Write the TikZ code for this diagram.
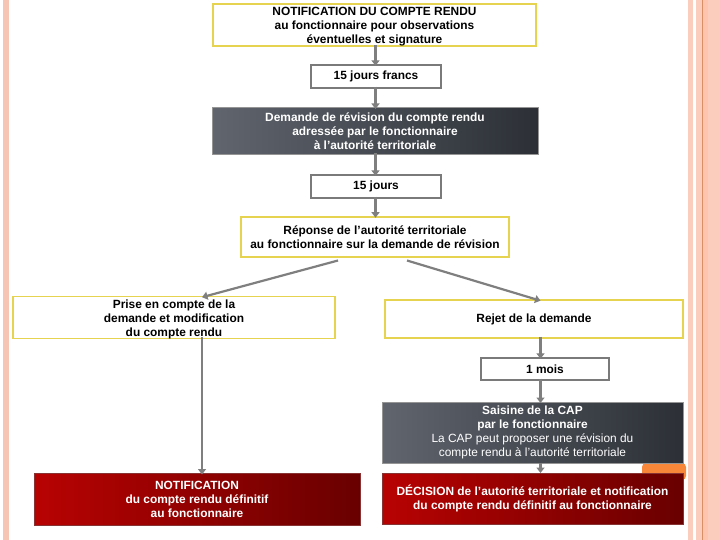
\documentclass[tikz,border=0pt]{standalone}
\usepackage{fontspec}
\setmainfont{Liberation Sans}
\usetikzlibrary{arrows.meta,calc}
\definecolor{ybord}{HTML}{E6D34F}
\definecolor{gbord}{HTML}{7A7A7A}
\definecolor{arrg}{HTML}{7F7F7F}
\definecolor{dkL}{HTML}{60656E}
\definecolor{dkR}{HTML}{2C3036}
\definecolor{rdL}{HTML}{B80202}
\definecolor{rdR}{HTML}{690000}
\definecolor{pinkA}{HTML}{F7C5B3}
\definecolor{pinkB}{HTML}{FBCDBD}
\definecolor{pinkC}{HTML}{FFC4AE}
\definecolor{pinkD}{HTML}{D98E66}
\definecolor{orng}{HTML}{F9873A}
\newcommand{\lowertext}[1]{\raisebox{-2pt}[\height][\depth]{\begin{tabular}{@{}c@{}}#1\end{tabular}}}
\tikzset{
  every node/.style={font=\fontsize{11.9}{14}\selectfont\bfseries, align=center, inner sep=0pt},
  ybox/.style={draw=ybord, line width=1.6pt, fill=white},
  gbox/.style={draw=gbord, line width=1.4pt, fill=white},
  dbox/.style={draw=gbord!80, line width=1pt, left color=dkL, right color=dkR, text=white},
  rbox/.style={draw=rdR!80, line width=1pt, left color=rdL, right color=rdR, text=white},
  flow/.style={draw=arrg, line width=2.2pt, -{Triangle[width=8pt,length=5.5pt]}},
}
\begin{document}
\begin{tikzpicture}[x=1pt,y=-1pt]
\useasboundingbox (0,0) rectangle (720,540);
% side decorations
\fill[pinkA] (3,0) rectangle (9,540);
\fill[pinkB] (688,0) rectangle (692.5,540);
\fill[pinkB] (696,0) rectangle (702,540);
\fill[pinkD] (702,0) rectangle (703.3,540);
\fill[pinkC] (703.3,0) rectangle (708,540);
\fill[pinkB] (708,0) rectangle (720,540);
% orange blob
\fill[orng, rounded corners=4pt] (642,463) rectangle (686,480);

\node[ybox, minimum width=323pt, minimum height=40pt] (n1) at (374.5,25)
  {\lowertext{NOTIFICATION DU COMPTE RENDU\\au fonctionnaire pour observations\\éventuelles et signature}};
\node[gbox, minimum width=130pt, minimum height=23pt] (jf) at (376,76.5) {15 jours francs};
\node[dbox, minimum width=326pt, minimum height=47pt] (dem) at (375,131.5)
  {Demande de révision du compte rendu\\adressée par le fonctionnaire\\à l’autorité territoriale};
\node[gbox, minimum width=130pt, minimum height=23pt] (j15) at (376,186.5) {15 jours};
\node[ybox, minimum width=268pt, minimum height=40pt] (rep) at (375,237)
  {Réponse de l’autorité territoriale\\au fonctionnaire sur la demande de révision};
\node[ybox, minimum width=322pt, minimum height=39pt] (prise) at (174,317.5)
  {\lowertext{Prise en compte de la\\demande et modification\\du compte rendu}};
\node[ybox, minimum width=298pt, minimum height=38pt] (rejet) at (534,319) {Rejet de la demande};
\node[gbox, minimum width=128pt, minimum height=22pt] (mois) at (545,369) {1 mois};
\node[dbox, minimum width=301pt, minimum height=61pt] (sais) at (532.5,432.5)
  {Saisine de la CAP\\par le fonctionnaire\\\mdseries La CAP peut proposer une révision du\\\mdseries compte rendu à l'autorité territoriale};
\node[rbox, minimum width=301pt, minimum height=51pt] (dec) at (532.5,498.5)
  {DÉCISION de l’autorité territoriale et notification\\du compte rendu définitif au fonctionnaire};
\node[rbox, minimum width=326pt, minimum height=52pt] (not2) at (197,499)
  {NOTIFICATION\\du compte rendu définitif\\au fonctionnaire};

\coordinate (cx) at (375.5,0);
\coordinate (rx) at (540.5,0);
\coordinate (lx) at (202,0);
\coordinate (rl) at (338,260.5);
\coordinate (rr) at (407,260.5);

\draw[flow] ([yshift=2pt]n1.south -| cx) -- ([yshift=-1.5pt]jf.north -| cx);
\draw[flow] ([yshift=2pt]jf.south -| cx) -- ([yshift=-1.5pt]dem.north -| cx);
\draw[flow] ([yshift=2pt]dem.south -| cx) -- ([yshift=-1.5pt]j15.north -| cx);
\draw[flow] ([yshift=2pt]j15.south -| cx) -- ([yshift=-1.5pt]rep.north -| cx);
\draw[flow] (rl) -- ([yshift=-1.5pt]prise.north -| lx);
\draw[flow] (rr) -- ([yshift=-1.5pt]rejet.north -| rx);
\draw[flow] ([yshift=2pt]rejet.south -| rx) -- ([yshift=-1.5pt]mois.north -| rx);
\draw[flow] ([yshift=2pt]mois.south -| rx) -- ([yshift=-1.5pt]sais.north -| rx);
\draw[flow] ([yshift=1pt]sais.south -| rx) -- ([yshift=-0.5pt]dec.north -| rx);
\draw[flow] ([yshift=2pt]prise.south -| lx) -- ([yshift=-2pt]not2.north -| lx);
\end{tikzpicture}
\end{document}
